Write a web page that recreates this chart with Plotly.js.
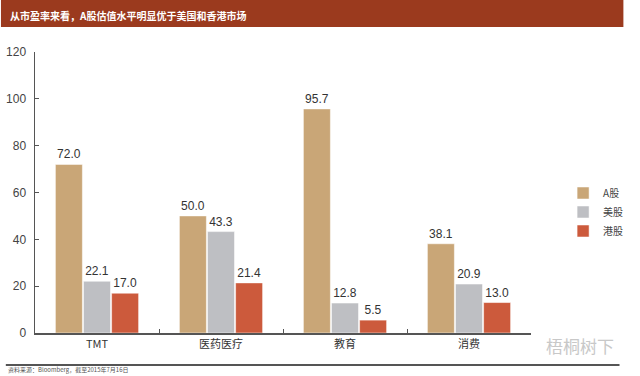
<!DOCTYPE html>
<html><head><meta charset="utf-8">
<script src="https://cdn.plot.ly/plotly-3.0.1.min.js"></script>
<style>html,body{margin:0;padding:0;background:#fff}#c{width:640px;height:376px}</style>
</head><body><div id="c"></div>
<script>
const categories = ["TMT", "医药医疗", "教育", "消费"];
const seriesNames = ["A股", "美股", "港股"];
const aShares = [72.0, 50.0, 95.7, 38.1];
const usShares = [22.1, 43.3, 12.8, 20.9];
const hkShares = [17.0, 21.4, 5.5, 13.0];
const colors = ["#C9A677", "#BEBFC3", "#CC5A3C"];
const yTicks = [0, 20, 40, 60, 80, 100, 120];

const font = "Liberation Sans, Arial, sans-serif";
const cjk = "Noto Sans CJK SC, sans-serif";
const vals = [aShares, usShares, hkShares];
const traces = vals.map((v, i) => ({
  type: "bar", name: seriesNames[i], x: categories, y: v,
  marker: {color: colors[i], line: {color: "rgba(255,255,255,0.5)", width: 1}},
  text: v.map(n => n.toFixed(1)), textposition: "outside",
  textfont: {family: font, size: 12, color: "#333"}, cliponaxis: false
}));

// plot area: x 35..545 (510px), y 52..333 (281px)
const px = x => (x - 35) / 510;
const py = y => (333 - y) / 281;

const layout = {
  width: 640, height: 376,
  margin: {l: 35, r: 95, t: 52, b: 43},
  paper_bgcolor: "#fff", plot_bgcolor: "#fff",
  barmode: "group", bargap: 0.32, bargroupgap: 0.04,
  showlegend: true,
  legend: {x: px(578), y: py(212), xanchor: "left", yanchor: "middle",
    font: {family: cjk, size: 10, color: "#444"}, tracegroupgap: 8,
    itemwidth: 30, bgcolor: "rgba(0,0,0,0)"},
  xaxis: {showline: true, linecolor: "#555", linewidth: 1.5, ticks: "inside",
    tickson: "boundaries", ticklen: 4, tickcolor: "#555",
    tickfont: {family: cjk, size: 11, color: "#333"}, showgrid: false},
  yaxis: {range: [0, 120], tickvals: yTicks, showline: true, linecolor: "#555",
    linewidth: 1.5, ticks: "inside", ticklen: 4, tickcolor: "#555", ticklabelstandoff: 5,
    tickfont: {family: font, size: 12, color: "#444"}, showgrid: false, zeroline: false},
  shapes: [
    {type: "rect", xref: "paper", yref: "paper", x0: px(0), x1: px(640), y0: py(27), y1: py(0),
      fillcolor: "#9B3A1E", line: {width: 0}, layer: "below"},
    {type: "line", xref: "paper", yref: "paper", x0: px(5), x1: px(636), y0: py(365), y1: py(365),
      line: {color: "#555", width: 2}}
  ],
  annotations: [
    {text: "<b>从市盈率来看，A股估值水平明显优于美国和香港市场</b>", xref: "paper", yref: "paper",
      x: px(7), y: py(15), xanchor: "left", yanchor: "middle", showarrow: false,
      font: {family: "Noto Sans CJK SC, sans-serif", size: 10, color: "#fff"}},
    {text: "资料来源：Bloomberg，截至2015年7月16日", xref: "paper", yref: "paper",
      x: px(5), y: py(369.5), xanchor: "left", yanchor: "middle", showarrow: false,
      font: {family: cjk, size: 6, color: "#555"}},
    {text: "梧桐树下", xref: "paper", yref: "paper",
      x: px(632), y: py(345), xanchor: "right", yanchor: "middle", showarrow: false,
      font: {family: cjk, size: 17, color: "#C8C8C8"}}
  ]
};
Plotly.newPlot("c", traces, layout, {staticPlot: true, displayModeBar: false});
</script></body></html>
